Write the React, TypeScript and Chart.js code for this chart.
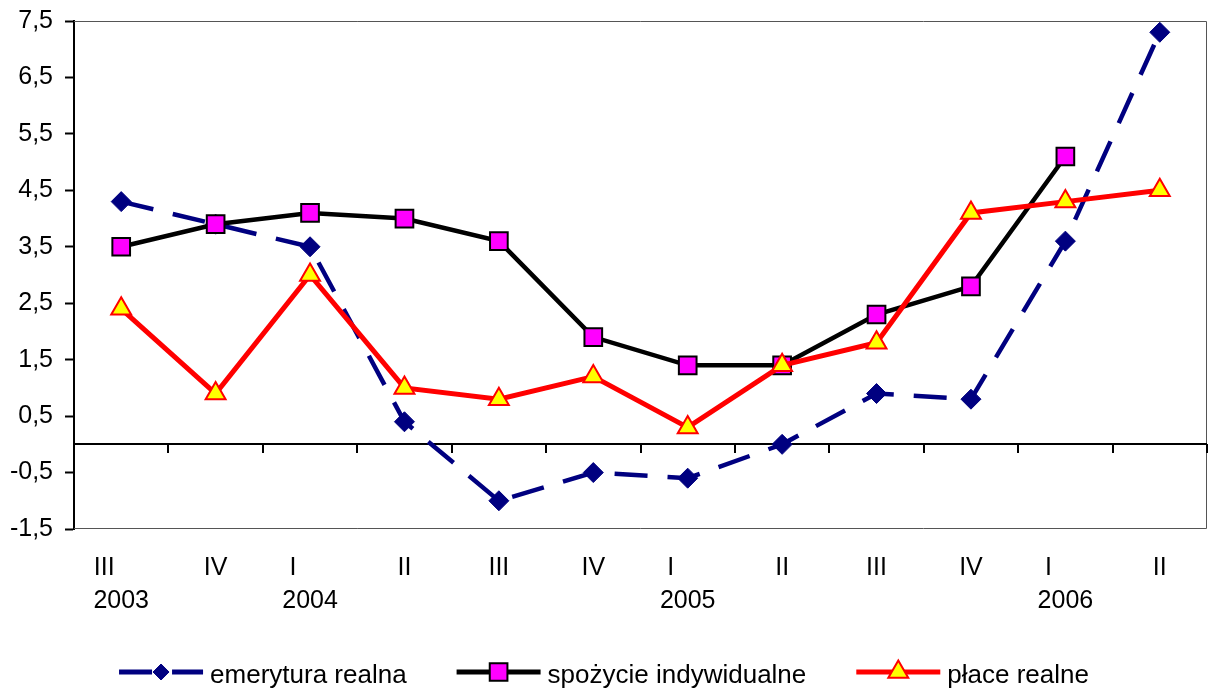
import React, { useEffect, useRef } from 'react';
import { Chart, registerables } from 'chart.js';

Chart.register(...registerables);

const quarters = ['III', 'IV', 'I', 'II', 'III', 'IV', 'I', 'II', 'III', 'IV', 'I', 'II'];
const years = ['2003', '', '2004', '', '', '', '2005', '', '', '', '2006', ''];
const emerytura = [4.3, 3.9, 3.5, 0.4, -1.0, -0.5, -0.6, 0.0, 0.9, 0.8, 3.6, 7.3];
const spozycie = [3.5, 3.9, 4.1, 4.0, 3.6, 1.9, 1.4, 1.4, 2.3, 2.8, 5.1, null];
const place = [2.4, 0.9, 3.0, 1.0, 0.8, 1.2, 0.3, 1.4, 1.8, 4.1, 4.3, 4.5];
const seriesNames = ['emerytura realna', 'spożycie indywidualne', 'płace realne'];
const Y_MIN = -1.5;
const Y_MAX = 7.5;
const Y_STEP = 1;

const FONT = '"Liberation Sans", Arial, Helvetica, sans-serif';

function drawMarker(ctx: CanvasRenderingContext2D, style: string, x: number, y: number, r: number, fill: string, stroke: string, bw: number) {
  ctx.save();
  ctx.beginPath();
  if (style === 'rectRot') {
    ctx.moveTo(x - r, y);
    ctx.lineTo(x, y - r);
    ctx.lineTo(x + r, y);
    ctx.lineTo(x, y + r);
    ctx.closePath();
  } else if (style === 'rect') {
    const s = Math.SQRT1_2 * r;
    ctx.rect(x - s, y - s, 2 * s, 2 * s);
  } else if (style === 'triangle') {
    ctx.moveTo(x, y - r);
    ctx.lineTo(x + r * Math.sin(2 * Math.PI / 3), y + r / 2);
    ctx.lineTo(x - r * Math.sin(2 * Math.PI / 3), y + r / 2);
    ctx.closePath();
  }
  ctx.fillStyle = fill;
  ctx.fill();
  if (bw > 0) {
    ctx.lineWidth = bw;
    ctx.strokeStyle = stroke;
    ctx.setLineDash([]);
    ctx.stroke();
  }
  ctx.restore();
}

const customPlugin = {
  id: 'customFrame',
  beforeDatasetsDraw(chart: any) {
    const { ctx, chartArea: a, scales } = chart;
    const yS = scales.y;
    const xS = scales.x;
    ctx.save();
    ctx.strokeStyle = '#555555';
    ctx.lineWidth = 1;
    ctx.beginPath();
    ctx.moveTo(a.left, a.top + 0.5);
    ctx.lineTo(a.right - 0.5, a.top + 0.5);
    ctx.lineTo(a.right - 0.5, a.bottom - 0.5);
    ctx.lineTo(a.left, a.bottom - 0.5);
    ctx.stroke();

    const y0 = Math.round(yS.getPixelForValue(0));
    ctx.strokeStyle = '#000000';
    ctx.lineWidth = 2;
    ctx.beginPath();
    ctx.moveTo(a.left, y0);
    ctx.lineTo(a.right, y0);
    const n = quarters.length;
    const w = (a.right - a.left) / n;
    for (let i = 0; i < n; i++) {
      const px = Math.round(xS.getPixelForValue(i) + w / 2);
      ctx.moveTo(px, y0);
      ctx.lineTo(px, y0 + 9);
    }
    ctx.stroke();
    ctx.restore();
  },
  afterDraw(chart: any) {
    const { ctx, chartArea: a, scales } = chart;
    const xS = scales.x;
    ctx.save();
    ctx.fillStyle = '#000000';
    ctx.font = `25px ${FONT}`;
    ctx.textAlign = 'center';
    ctx.textBaseline = 'alphabetic';
    for (let i = 0; i < quarters.length; i++) {
      const cx = xS.getPixelForValue(i);
      if (years[i]) {
        ctx.fillText(quarters[i], cx - 17, a.bottom + 46);
        ctx.fillText(years[i], cx, a.bottom + 79);
      } else {
        ctx.fillText(quarters[i], cx, a.bottom + 46);
      }
    }

    // legend
    ctx.font = `26px ${FONT}`;
    ctx.textAlign = 'left';
    const lineLen = 84;
    const gapText = 7;
    const gapItem = 50;
    const dsets = chart.data.datasets;
    const widths = dsets.map((d: any) => lineLen + gapText + ctx.measureText(d.label).width);
    const total = widths.reduce((s: number, v: number) => s + v, 0) + gapItem * (dsets.length - 1);
    let px = (chart.width - total) / 2;
    const ly = chart.height - 17;
    dsets.forEach((d: any, i: number) => {
      ctx.save();
      ctx.strokeStyle = d.borderColor;
      ctx.lineWidth = 5;
      ctx.setLineDash(d.borderDash || []);
      ctx.beginPath();
      ctx.moveTo(px, ly);
      ctx.lineTo(px + lineLen, ly);
      ctx.stroke();
      ctx.restore();
      const r = d.pointStyle === 'rectRot' ? 8 : d.pointRadius;
      drawMarker(ctx, d.pointStyle, px + lineLen / 2, ly, r, d.pointBackgroundColor, d.pointBorderColor, d.pointBorderWidth);
      ctx.fillStyle = '#000000';
      ctx.fillText(d.label, px + lineLen + gapText, ly + 11);
      px += widths[i] + gapItem;
    });
    ctx.restore();
  },
};

export default function App() {
  const canvasRef = useRef<HTMLCanvasElement | null>(null);

  useEffect(() => {
    document.body.style.margin = '0';
    const canvas = canvasRef.current;
    if (!canvas) return;
    const chart = new Chart(canvas, {
      type: 'line',
      data: {
        labels: quarters,
        datasets: [
          {
            label: seriesNames[0],
            data: emerytura,
            order: 3,
            borderColor: '#000080',
            borderWidth: 4.5,
            borderDash: [33, 20],
            pointStyle: 'rectRot',
            pointRadius: 10,
            pointBackgroundColor: '#000080',
            pointBorderColor: '#000080',
            pointBorderWidth: 1,
            tension: 0,
            fill: false,
          },
          {
            label: seriesNames[1],
            data: spozycie,
            order: 2,
            borderColor: '#000000',
            borderWidth: 4.5,
            pointStyle: 'rect',
            pointRadius: 12.5,
            pointBackgroundColor: '#FF00FF',
            pointBorderColor: '#000000',
            pointBorderWidth: 2,
            tension: 0,
            fill: false,
          },
          {
            label: seriesNames[2],
            data: place,
            order: 1,
            borderColor: '#FF0000',
            borderWidth: 5,
            pointStyle: 'triangle',
            pointRadius: 11.5,
            pointBackgroundColor: '#FFFF00',
            pointBorderColor: '#FF0000',
            pointBorderWidth: 2,
            tension: 0,
            fill: false,
          },
        ] as any,
      },
      options: {
        responsive: false,
        animation: false,
        devicePixelRatio: 1,
        layout: { autoPadding: false, padding: { top: 21, right: 1, left: 0, bottom: 0 } },
        plugins: {
          legend: { display: false },
          tooltip: { enabled: false },
          title: { display: false },
        },
        elements: { line: { borderCapStyle: 'butt' } },
        scales: {
          x: {
            type: 'category',
            offset: true,
            grid: { display: false },
            border: { display: false },
            ticks: { display: false },
            afterFit: (scale: any) => {
              scale.height = 160;
              scale.paddingLeft = 0;
              scale.paddingRight = 0;
            },
          },
          y: {
            min: Y_MIN,
            max: Y_MAX,
            grid: {
              drawOnChartArea: false,
              drawTicks: true,
              tickLength: 9,
              tickWidth: 2,
              tickColor: '#000000',
              color: '#000000',
            },
            border: { display: true, color: '#000000', width: 2 },
            ticks: {
              stepSize: Y_STEP,
              padding: 12,
              color: '#000000',
              font: { family: FONT, size: 25 },
              callback: (v: any) => Number(v).toFixed(1).replace('.', ','),
            },
            afterFit: (scale: any) => {
              scale.width = 74;
              scale.paddingTop = 0;
              scale.paddingBottom = 0;
            },
          },
        },
      } as any,
      plugins: [customPlugin],
    });
    return () => chart.destroy();
  }, []);

  return (
    <div style={{ width: 1208, height: 689 }}>
      <canvas ref={canvasRef} width={1208} height={689} style={{ display: 'block', width: 1208, height: 689 }} />
    </div>
  );
}
